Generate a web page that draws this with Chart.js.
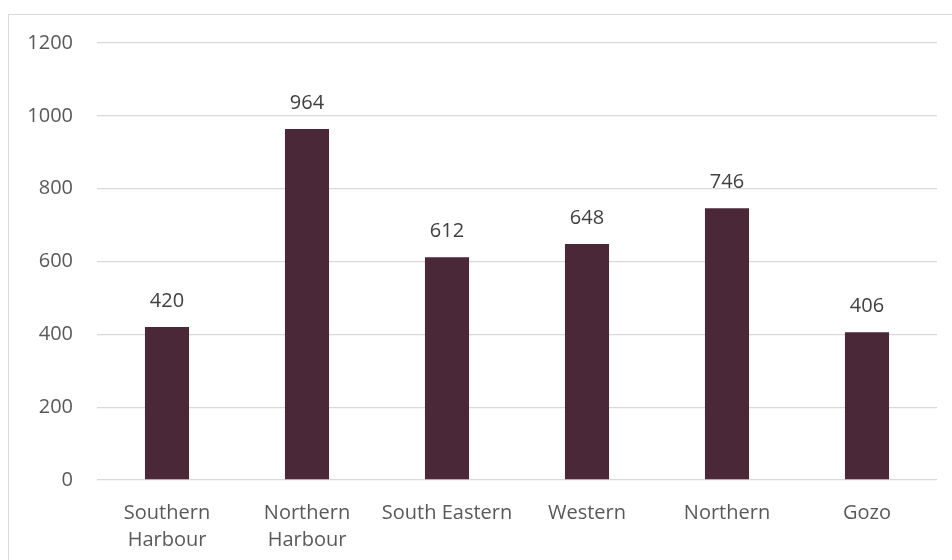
<!DOCTYPE html>
<html>
<head>
<meta charset="utf-8">
<script src="https://cdn.jsdelivr.net/npm/chart.js@4/dist/chart.umd.min.js"></script>
<style>
  html, body { margin: 0; padding: 0; background: #fff; overflow: hidden; }
  #box {
    position: absolute; left: 8px; top: 14px;
    width: 944px; height: 546px;
    border-left: 1px solid #d9d9d9; border-top: 1px solid #d9d9d9;
  }
</style>
</head>
<body>
<div id="box"><canvas id="chart"></canvas></div>
<script>
// regions and counts
var regions = [['Southern', 'Harbour'], ['Northern', 'Harbour'], 'South Eastern', 'Western', 'Northern', 'Gozo'];
var counts = [420, 964, 612, 648, 746, 406];
var yTicks = [0, 200, 400, 600, 800, 1000, 1200];

var fontFam = '"Open Sans", "Noto Sans", sans-serif';

// draws the value above each bar
var barLabels = {
  id: 'barLabels',
  afterDatasetsDraw: function (chart) {
    var ctx = chart.ctx;
    var meta = chart.getDatasetMeta(0);
    ctx.save();
    ctx.font = '20px ' + fontFam;
    ctx.fillStyle = '#404040';
    ctx.textAlign = 'center';
    ctx.textBaseline = 'middle';
    meta.data.forEach(function (bar, i) {
      ctx.fillText(counts[i], bar.x, bar.y - 26);
    });
    ctx.restore();
  }
};

new Chart(document.getElementById('chart'), {
  type: 'bar',
  data: {
    labels: regions,
    datasets: [{
      data: counts,
      backgroundColor: '#4a2838',
      categoryPercentage: 1,
      barPercentage: 0.315
    }]
  },
  options: {
    responsive: true,
    maintainAspectRatio: false,
    animation: false,
    layout: { padding: { top: 28, right: 16, bottom: 0, left: 0 } },
    plugins: { legend: { display: false }, tooltip: { enabled: false } },
    scales: {
      x: {
        grid: { display: false },
        border: { display: false },
        ticks: {
          color: '#595959',
          font: { family: fontFam, size: 20, lineHeight: 1.35 },
          maxRotation: 0,
          autoSkip: false,
          padding: 12
        },
        afterFit: function (s) { s.height = 81; }
      },
      y: {
        min: 0,
        max: 1200,
        afterBuildTicks: function (s) { s.ticks = yTicks.map(function (v) { return { value: v }; }); },
        grid: { color: '#d9d9d9', lineWidth: 1.3, drawTicks: false },
        border: { display: false },
        ticks: {
          color: '#595959',
          font: { family: fontFam, size: 20 },
          padding: 24,
          callback: function (v) { return String(v); }
        },
        afterFit: function (s) {
          s.width = 88;
          s.paddingTop = 0;
          s.paddingBottom = 0;
        }
      }
    }
  },
  plugins: [barLabels]
});
</script>
</body>
</html>
